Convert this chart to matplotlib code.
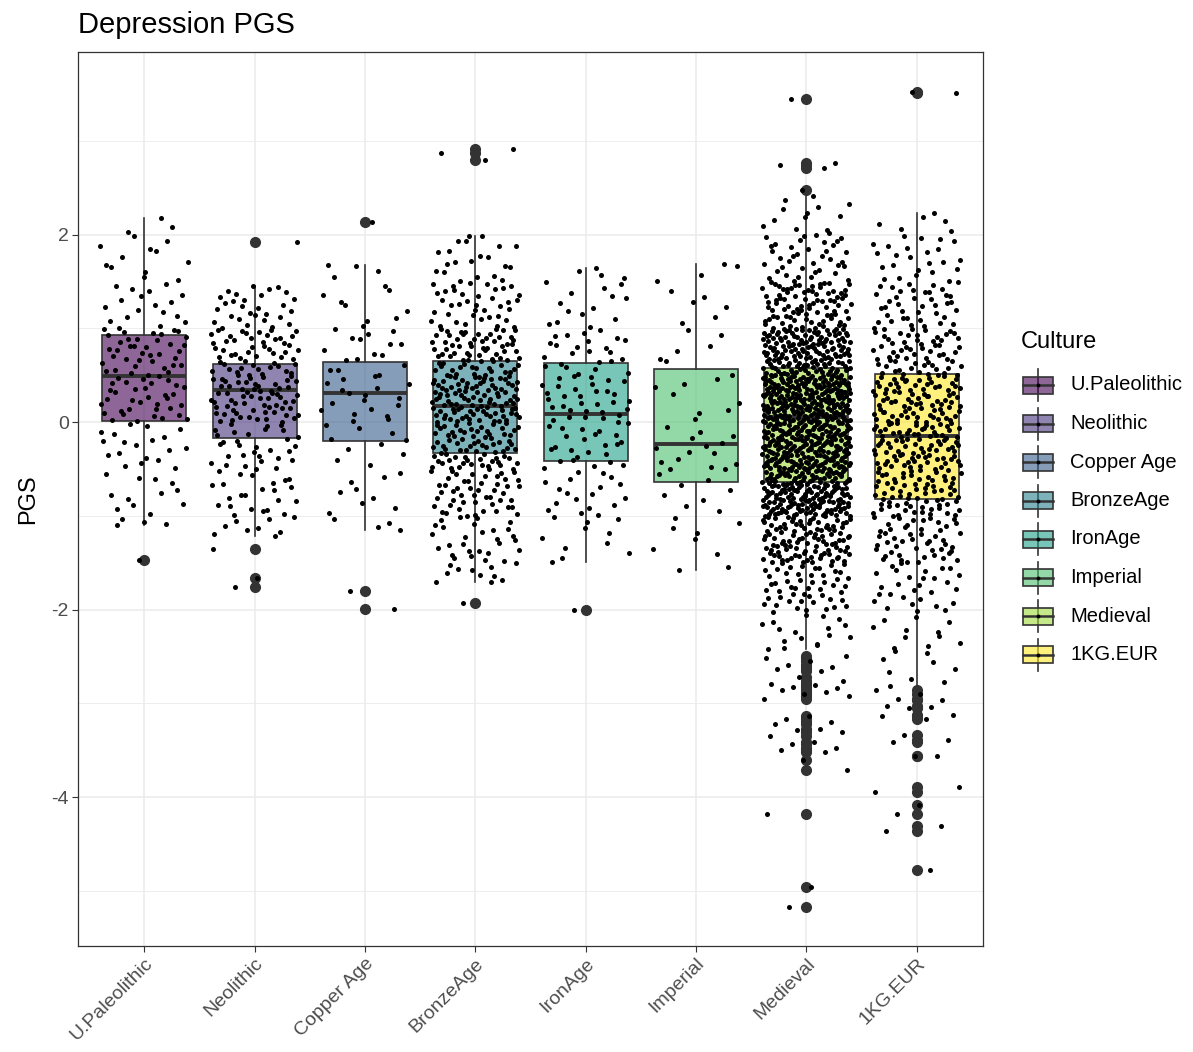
import numpy as np
import matplotlib.pyplot as plt
from matplotlib.colors import to_rgba
from matplotlib.patches import Rectangle

plt.rcParams['font.family'] = ['Liberation Sans', 'DejaVu Sans']

W, H = 1193, 1052

# 箱线图统计量
cultures = ["U.Paleolithic", "Neolithic", "Copper Age", "BronzeAge",
            "IronAge", "Imperial", "Medieval", "1KG.EUR"]
colors = ["#440154", "#46337E", "#365C8D", "#277F8E",
          "#1FA187", "#4AC16D", "#9FDA3A", "#FDE725"]
q1 = [0.01, -0.17, -0.20, -0.33, -0.41, -0.64, -0.64, -0.82]
med = [0.49, 0.34, 0.31, 0.17, 0.09, -0.23, 0.05, -0.15]
q3 = [0.93, 0.62, 0.64, 0.65, 0.63, 0.57, 0.58, 0.51]
whislo = [-1.10, -1.21, -1.15, -1.71, -1.49, -1.58, -2.42, -2.82]
whishi = [2.18, 1.45, 1.68, 1.99, 1.64, 1.69, 2.41, 2.23]

# 离群值
out_upal = [-1.47]
out_neo = [1.92, -1.35, -1.66, -1.76]
out_copper = [2.14, -1.80, -1.99]
out_bronze = [2.91, 2.87, 2.80, -1.93]
out_iron = [-2.00]
out_imperial = []
out_medieval = [3.45, 2.77, 2.74, 2.71, 2.48,
                -2.50, -2.52, -2.55, -2.59, -2.61, -2.63, -2.66, -2.72,
                -2.76, -2.79, -2.81, -2.83, -2.84, -2.86, -2.88, -2.90,
                -2.92, -2.95, -3.14, -3.17, -3.20, -3.22, -3.27, -3.29,
                -3.31, -3.35, -3.41, -3.43, -3.48, -3.50, -3.52, -3.61,
                -3.71, -4.18, -4.96, -5.17]
out_1kg = [3.52, 3.51,
           -2.86, -2.90, -2.95, -2.97, -3.03, -3.04, -3.05, -3.13, -3.14,
           -3.17, -3.34, -3.39, -3.41, -3.56, -3.56, -3.89, -3.95, -4.09,
           -4.18, -4.31, -4.36, -4.78]
outliers = [out_upal, out_neo, out_copper, out_bronze,
            out_iron, out_imperial, out_medieval, out_1kg]

# 每组样本在各区间内的个数（须线范围内）
bin_edges = [-3.0, -2.5, -2.0, -1.5, -1.0, -0.5, 0.0, 0.5, 1.0, 1.5, 2.0, 2.5]
cnt_upal = [0, 0, 0, 3, 12, 19, 35, 38, 18, 12, 2]
cnt_neo = [0, 0, 0, 8, 24, 30, 64, 52, 28, 0, 0]
cnt_copper = [0, 0, 0, 3, 9, 10, 18, 16, 9, 3, 0]
cnt_bronze = [0, 0, 10, 28, 50, 75, 100, 72, 38, 20, 0]
cnt_iron = [0, 0, 0, 10, 18, 24, 32, 24, 14, 3, 0]
cnt_imperial = [0, 0, 1, 7, 9, 14, 8, 7, 6, 3, 0]
cnt_medieval = [0, 18, 50, 105, 190, 215, 235, 160, 85, 38, 12]
cnt_1kg = [6, 14, 28, 50, 72, 88, 84, 62, 40, 24, 5]
counts = [cnt_upal, cnt_neo, cnt_copper, cnt_bronze,
          cnt_iron, cnt_imperial, cnt_medieval, cnt_1kg]


def halton(i, base):
    # 低差异序列，用来确定抖动位置
    f, r = 1.0, 0.0
    while i > 0:
        f /= base
        r += f * (i % base)
        i //= base
    return r


fig = plt.figure(figsize=(W / 100, H / 100), dpi=100)
ax = fig.add_axes([78 / W, 1 - 946 / H, 905 / W, 894 / H])

pos = np.arange(1, len(cultures) + 1)
stats = [dict(label=c, q1=q1[i], med=med[i], q3=q3[i],
              whislo=whislo[i], whishi=whishi[i], fliers=outliers[i])
         for i, c in enumerate(cultures)]
bp = ax.bxp(stats, positions=pos, widths=0.76, patch_artist=True, showcaps=False,
            boxprops=dict(edgecolor='#333333', linewidth=1.2),
            whiskerprops=dict(color='#333333', linewidth=1.2),
            medianprops=dict(color='#333333', linewidth=2.8),
            flierprops=dict(marker='o', markerfacecolor='#333333',
                            markeredgecolor='#333333', markersize=7))
for patch, col in zip(bp['boxes'], colors):
    patch.set_facecolor(to_rgba(col, 0.6))

# 抖动散点
k = 1
for i in range(len(cultures)):
    xs, ys = [], []
    for b in range(len(bin_edges) - 1):
        lo = max(bin_edges[b], whislo[i])
        hi = min(bin_edges[b + 1], whishi[i])
        for j in range(counts[i][b]):
            ys.append(lo + (hi - lo) * halton(k, 3))
            xs.append(halton(k, 2))
            k += 1
    for v in [whislo[i], whishi[i]] + outliers[i]:
        ys.append(v)
        xs.append(halton(k, 2))
        k += 1
    ax.scatter(pos[i] + (np.array(xs) - 0.5) * 0.8, ys, s=13, c='black',
               linewidths=0, zorder=4)

ax.set_xlim(0.4, 8.6)
ax.set_ylim(-5.59, 3.95)
yt = [-4, -2, 0, 2]
ax.set_yticks(yt)
ax.set_yticklabels([str(v) for v in yt])
ax.set_yticks([-5, -3, -1, 1, 3], minor=True)
ax.set_xticks(pos)
ax.set_xticklabels(cultures, rotation=45, ha='right', va='top', rotation_mode='anchor')
ax.grid(which='major', color='#EBEBEB', linewidth=1.1)
ax.grid(which='minor', axis='y', color='#EBEBEB', linewidth=0.6)
ax.set_axisbelow(True)
ax.tick_params(which='minor', length=0)
ax.tick_params(which='major', length=4, width=0.8, color='#333333',
               labelsize=14, labelcolor='#4D4D4D', pad=2.5)
for sp in ax.spines.values():
    sp.set_color('#333333')
    sp.set_linewidth(0.9)

fig.text(78 / W, 1 - 33 / H, 'Depression PGS', fontsize=21, ha='left', va='baseline')
fig.text(28 / W, 1 - 499 / H, 'PGS', fontsize=17, rotation=90, ha='center', va='center')

# 图例
lg = fig.add_axes([0, 0, 1, 1])
lg.set_xlim(0, W)
lg.set_ylim(H, 0)
lg.axis('off')
lg.text(1021, 342, 'Culture', fontsize=17, ha='left', va='center')
for i, c in enumerate(cultures):
    yc = 385 + i * 38.5
    lg.plot([1038, 1038], [yc - 16, yc + 16], color='#333333', lw=1.2)
    lg.add_patch(Rectangle((1023, yc - 8.5), 30, 17, facecolor=to_rgba(colors[i], 0.6),
                           edgecolor='#333333', lw=1.2, zorder=2))
    lg.plot([1023, 1053], [yc, yc], color='#333333', lw=1.8, zorder=3)
    lg.scatter([1038], [yc], s=8, c='black', linewidths=0, zorder=4)
    lg.text(1070, yc, c, fontsize=14.5, ha='left', va='center')

fig.savefig('out.png', dpi=100)
